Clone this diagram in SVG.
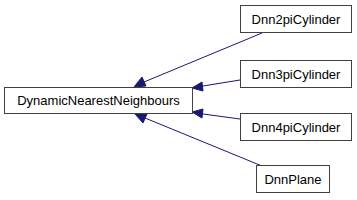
<svg xmlns="http://www.w3.org/2000/svg" width="357" height="200" viewBox="0 0 357 200">
<style>
.box{fill:#fff;stroke:#404040;stroke-width:1}
.lbl{font-family:"Liberation Sans",Arial,sans-serif;font-size:13px;fill:#000;text-anchor:middle}
.edge{stroke:#191970;stroke-width:1;fill:none}
.ah{fill:#191970;stroke:#191970}
</style>
<rect width="357" height="200" fill="#fff"/>
<g id="edges">
<line class="edge" x1="262" y1="33" x2="144" y2="82"/>
<polygon class="ah" points="134,87 142,77 146,86"/>
<line class="edge" x1="240" y1="80" x2="203" y2="86"/>
<polygon class="ah" points="192,88 202,82 203,91"/>
<line class="edge" x1="240" y1="119" x2="203" y2="114"/>
<polygon class="ah" points="192,112 203,109 202,118"/>
<line class="edge" x1="262" y1="166" x2="145" y2="118"/>
<polygon class="ah" points="135,114 147,114 143,123"/>
</g>
<g id="DynamicNearestNeighbours">
<rect class="box" x="4.5" y="87.5" width="188" height="26"/>
<text class="lbl" x="98.5" y="105">DynamicNearestNeighbours</text>
</g>
<g id="Dnn2piCylinder">
<rect class="box" x="240.5" y="5.5" width="111" height="27"/>
<text class="lbl" x="296" y="23.5">Dnn2piCylinder</text>
</g>
<g id="Dnn3piCylinder">
<rect class="box" x="240.5" y="60.5" width="111" height="27"/>
<text class="lbl" x="296" y="78.5">Dnn3piCylinder</text>
</g>
<g id="Dnn4piCylinder">
<rect class="box" x="240.5" y="113.5" width="111" height="27"/>
<text class="lbl" x="296" y="131.5">Dnn4piCylinder</text>
</g>
<g id="DnnPlane">
<rect class="box" x="256.5" y="165.5" width="73" height="27"/>
<text class="lbl" x="293" y="183.5">DnnPlane</text>
</g>
</svg>
